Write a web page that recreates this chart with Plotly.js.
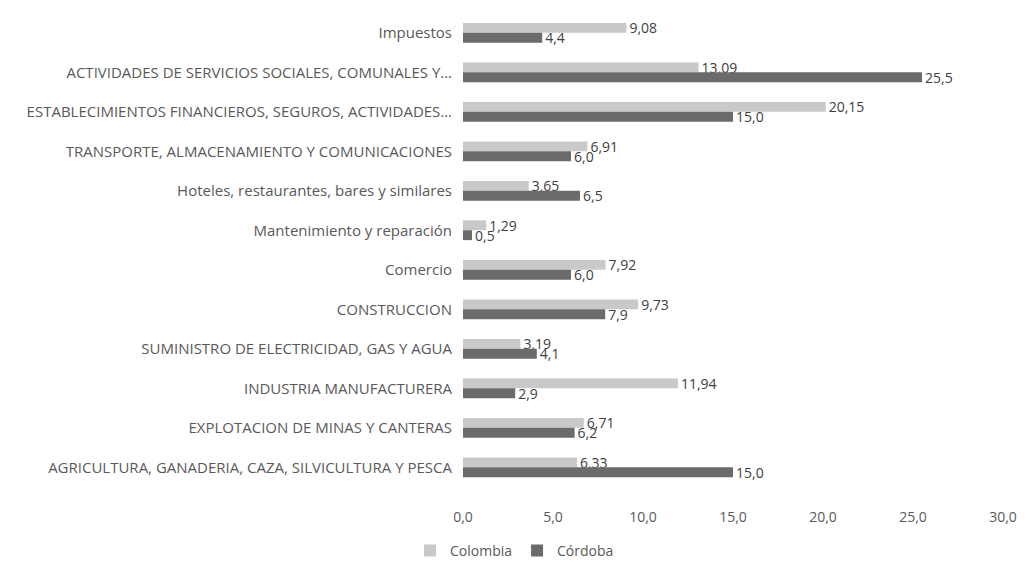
<!DOCTYPE html>
<html>
<head>
<meta charset="utf-8">
<script src="https://cdn.plot.ly/plotly-3.0.1.min.js"></script>
<style>html,body{margin:0;padding:0;background:#fff;}#chart{width:1029px;height:572px;}</style>
</head>
<body>
<div id="chart"></div>
<script>
const categories = [
  "Impuestos",
  "ACTIVIDADES DE SERVICIOS SOCIALES, COMUNALES Y…",
  "ESTABLECIMIENTOS FINANCIEROS, SEGUROS, ACTIVIDADES…",
  "TRANSPORTE, ALMACENAMIENTO Y COMUNICACIONES",
  "Hoteles, restaurantes, bares y similares",
  "Mantenimiento y reparación",
  "Comercio",
  "CONSTRUCCION",
  "SUMINISTRO DE ELECTRICIDAD, GAS Y AGUA",
  "INDUSTRIA MANUFACTURERA",
  "EXPLOTACION DE MINAS Y CANTERAS",
  "AGRICULTURA, GANADERIA, CAZA, SILVICULTURA Y PESCA"
];
const colombia = [9.08, 13.09, 20.15, 6.91, 3.65, 1.29, 7.92, 9.73, 3.19, 11.94, 6.71, 6.33];
const cordoba  = [4.4, 25.5, 15.0, 6.0, 6.5, 0.5, 6.0, 7.9, 4.1, 2.9, 6.2, 15.0];
const xTicks = [0, 5, 10, 15, 20, 25, 30];

const fmt = (v, d) => v.toFixed(d).replace('.', ',');
const font = "Open Sans, Noto Sans, sans-serif";

const traces = [
  {
    type: 'bar', orientation: 'h', name: 'Colombia',
    y: categories, x: colombia,
    text: colombia.map(v => fmt(v, 2)),
    textposition: 'outside', constraintext: 'none', cliponaxis: false,
    textfont: {family: font, size: 14, color: '#404040'},
    marker: {color: '#c9c9c9'},
    hoverinfo: 'x+y'
  },
  {
    type: 'bar', orientation: 'h', name: 'Córdoba',
    y: categories, x: cordoba,
    text: cordoba.map(v => fmt(v, 1)),
    textposition: 'outside', constraintext: 'none', cliponaxis: false,
    textfont: {family: font, size: 14, color: '#404040'},
    marker: {color: '#6b6b6b'},
    hoverinfo: 'x+y'
  }
];

const layout = {
  width: 1029, height: 572,
  margin: {l: 463, r: 26, t: 13, b: 85},
  paper_bgcolor: '#fff', plot_bgcolor: '#fff',
  separators: ',.',
  barmode: 'group', bargap: 0.5, bargroupgap: 0,
  font: {family: font, size: 14, color: '#595959'},
  xaxis: {
    range: [0, 30], tickvals: xTicks, ticktext: xTicks.map(v => fmt(v, 1)),
    showgrid: false, zeroline: false, showline: false,
    ticks: '', ticklabelstandoff: 20,
    tickfont: {family: font, size: 14, color: '#595959'}
  },
  yaxis: {
    autorange: 'reversed', type: 'category',
    showgrid: false, zeroline: false, showline: false, ticks: '',
    ticklabelstandoff: 10,
    tickfont: {family: font, size: 15, color: '#595959'}
  },
  showlegend: true,
  legend: {
    orientation: 'h', xref: 'container', yref: 'container',
    x: 0.5, xanchor: 'center', y: 0.037, yanchor: 'middle',
    font: {family: font, size: 14, color: '#595959'},
    itemwidth: 30
  }
};

Plotly.newPlot('chart', traces, layout, {displayModeBar: false, staticPlot: true});
</script>
</body>
</html>
